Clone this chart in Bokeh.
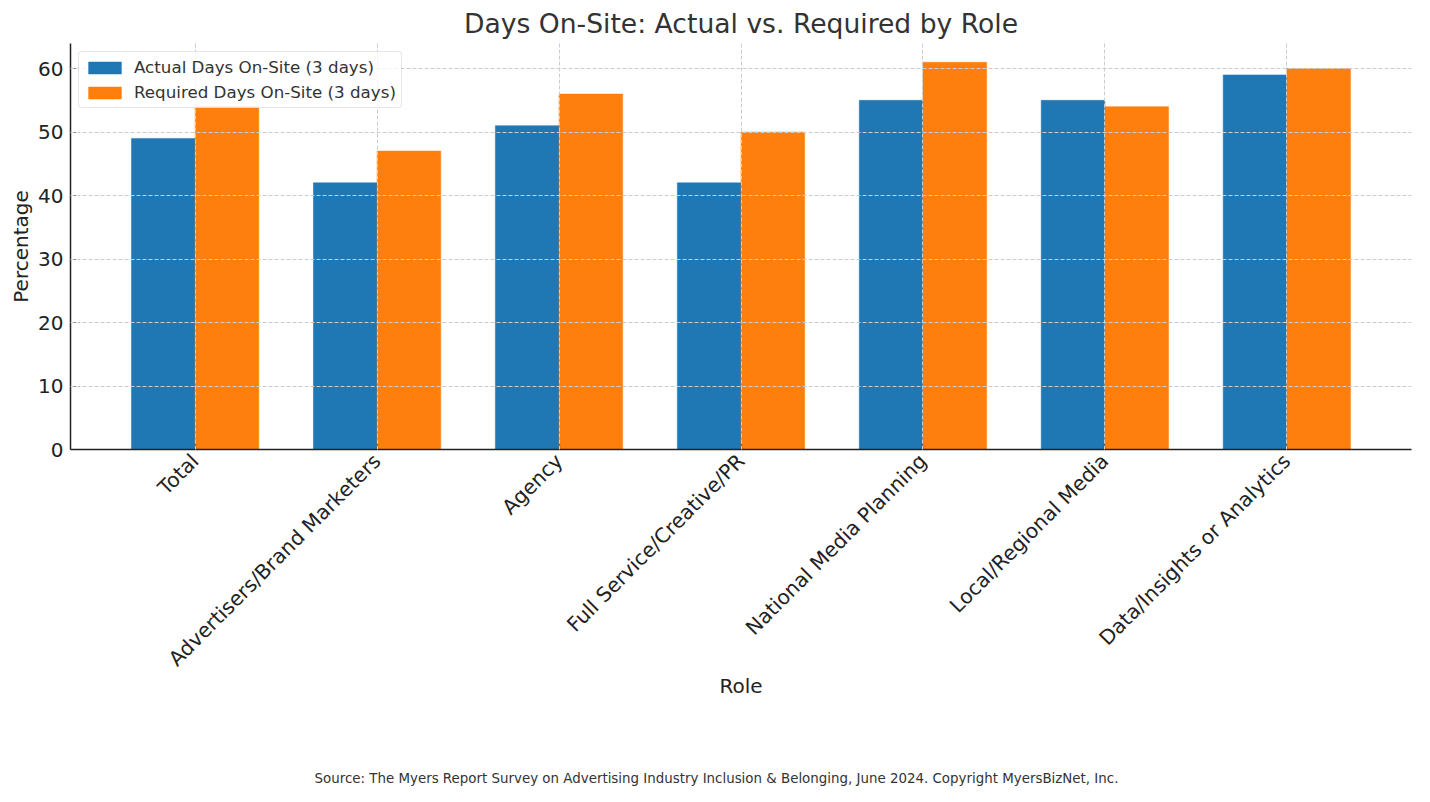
from bokeh.plotting import figure
from bokeh.models import (Range1d, FixedTicker, Legend, LegendItem, Title, ColumnDataSource)
from bokeh.transform import dodge
from bokeh.embed import file_html
from bokeh.resources import INLINE

roles = ["Total", "Advertisers/Brand Marketers", "Agency", "Full Service/Creative/PR",
         "National Media Planning", "Local/Regional Media", "Data/Insights or Analytics"]
actual = [49, 42, 51, 42, 55, 55, 59]
required = [54, 47, 56, 50, 61, 54, 60]
y_ticks = [0, 10, 20, 30, 40, 50, 60]
series_names = ["Actual Days On-Site (3 days)", "Required Days On-Site (3 days)"]
colors = ["#1f77b4", "#ff7f0e"]
source_text = ("Source: The Myers Report Survey on Advertising Industry Inclusion & Belonging, "
               "June 2024. Copyright MyersBizNet, Inc.")

FONT = "DejaVu Sans"
bw = 0.35
idx = list(range(len(roles)))
src = ColumnDataSource(dict(x=idx, actual=actual, required=required))

p = figure(width=1414, height=786, output_backend="svg", toolbar_location=None,
           x_range=Range1d(-0.685, len(roles) - 1 + 0.685), y_range=Range1d(0, 63.95),
           min_border_left=70, min_border_right=3, min_border_top=43, min_border_bottom=337)
p.outline_line_color = None
p.background_fill_color = "white"
p.border_fill_color = "white"

r1 = p.vbar(x=dodge("x", -bw / 2, range=p.x_range), top="actual", width=bw, source=src,
            fill_color=colors[0], line_color=colors[0], line_width=0.5)
r2 = p.vbar(x=dodge("x", bw / 2, range=p.x_range), top="required", width=bw, source=src,
            fill_color=colors[1], line_color=colors[1], line_width=0.5)

# title
p.title.text = "Days On-Site: Actual vs. Required by Role"
p.title.align = "center"
p.title.text_font = FONT
p.title.text_font_size = "26.6px"
p.title.text_font_style = "normal"
p.title.text_color = "#333333"

# axes
for ax in (p.xaxis[0], p.yaxis[0]):
    ax.axis_line_color = "#222222"
    ax.axis_line_width = 1.5
    ax.major_tick_in = 5
    ax.major_tick_out = 0
    ax.major_tick_line_color = "#222222"
    ax.major_tick_line_width = 1.2
    ax.minor_tick_line_color = None
    ax.major_label_text_font = FONT
    ax.major_label_text_font_size = "20px"
    ax.major_label_text_color = "#222222"
    ax.axis_label_text_font = FONT
    ax.axis_label_text_font_size = "20px"
    ax.axis_label_text_font_style = "normal"
    ax.axis_label_text_color = "#222222"

p.xaxis.ticker = FixedTicker(ticks=idx)
p.xaxis.major_label_overrides = {i: r for i, r in zip(idx, roles)}
p.xaxis.major_label_orientation = 0.785398
p.xaxis.major_label_text_font_size = "20.3px"
p.xaxis.major_label_standoff = 8
p.xaxis.axis_label = "Role"
p.xaxis.axis_label_standoff = -8
p.yaxis.ticker = FixedTicker(ticks=y_ticks)
p.yaxis.major_label_standoff = 7
p.yaxis.axis_label = "Percentage"
p.yaxis.axis_label_standoff = 2

for g in (p.xgrid[0], p.ygrid[0]):
    g.grid_line_color = "#cccccc"
    g.grid_line_width = 1
    g.grid_line_dash = "4 2"
    g.level = "annotation"
p.xgrid.ticker = FixedTicker(ticks=idx)
p.ygrid.ticker = FixedTicker(ticks=y_ticks)

legend = Legend(items=[LegendItem(label=series_names[0], renderers=[r1]),
                       LegendItem(label=series_names[1], renderers=[r2])],
                location="top_left", margin=8, padding=5, spacing=5,
                glyph_width=41, glyph_height=15, label_standoff=9, label_height=20,
                label_text_font=FONT, label_text_font_size="16.7px", label_text_color="#333333",
                border_line_color="#cccccc", border_line_width=1, border_radius=4,
                background_fill_color="white", background_fill_alpha=0.8)
p.add_layout(legend)

# spacing between the axis block and the source note
spacer = Title(text=" ", text_font=FONT, text_font_size="13.4px", standoff=50)
p.add_layout(spacer, "below")
note = Title(text=source_text, align="left", offset=244, text_font=FONT,
             text_font_size="13.4px", text_font_style="normal", text_color="#333333",
             standoff=0)
p.add_layout(note, "below")

open("out.html", "w").write(file_html(p, INLINE))
